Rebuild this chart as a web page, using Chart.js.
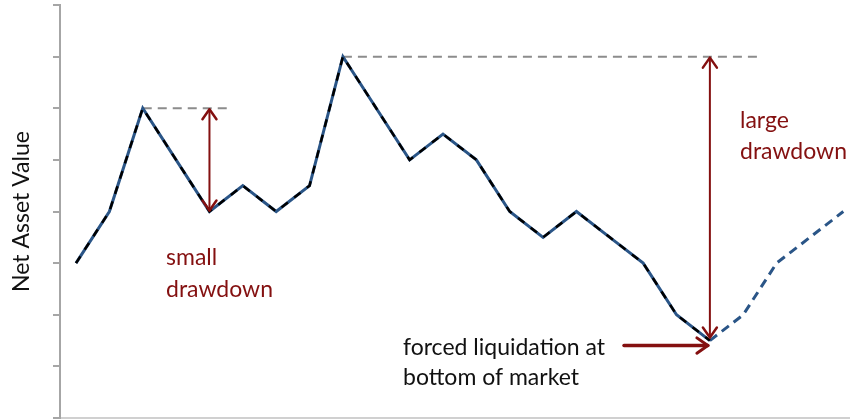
<!DOCTYPE html>
<html>
<head>
<meta charset="utf-8">
<script src="https://cdn.jsdelivr.net/npm/chart.js@4.4.0/dist/chart.umd.min.js"></script>
<style>
    html, body { margin: 0; padding: 0; background: #ffffff; }
    #wrap { width: 850px; height: 420px; }
</style>
</head>
<body>
<div id="wrap"><canvas id="navChart"></canvas></div>
<script>
// net asset value per period (index = period)
const navValues = [3, 4, 6, 5, 4, 4.5, 4, 4.5, 7, 6, 5, 5.5, 5, 4, 3.5, 4, 3.5, 3, 2, 1.5, 2, 3, 3.5, 4];
const liquidationIndex = 19;
const yTicks = [0, 1, 2, 3, 4, 5, 6, 7, 8];

// previous highs (start period, end period, level)
const smallPeak = [2, 4.65, 6];
const largePeak = [8, 20.5, 7];

const darkRed = '#841010';
const navBlue = '#2a5587';
const axisGray = '#a6a6a6';

function toPoints(from, to) {
    return navValues.slice(from, to).map((v, i) => ({ x: from + i, y: v }));
}

function peakLine(p) {
    return [{ x: p[0], y: p[2] }, { x: p[1], y: p[2] }];
}

function drawHead(ctx, x, y, dx, dy, size) {
    // open V-shaped arrow head pointing along (dx, dy)
    const len = Math.hypot(dx, dy);
    const ux = dx / len, uy = dy / len;
    ctx.beginPath();
    ctx.moveTo(x - ux * size + uy * size * 0.7, y - uy * size - ux * size * 0.7);
    ctx.lineTo(x, y);
    ctx.lineTo(x - ux * size - uy * size * 0.7, y - uy * size + ux * size * 0.7);
    ctx.stroke();
}

const annotations = {
    id: 'annotations',
    afterDatasetsDraw(chart) {
        const ctx = chart.ctx;
        const xs = chart.scales.x, ys = chart.scales.y;
        ctx.save();
        ctx.strokeStyle = darkRed;
        ctx.lineCap = 'round';
        ctx.lineJoin = 'round';

        // small drawdown: peak to trough at period 4
        let x = xs.getPixelForValue(4);
        let top = ys.getPixelForValue(smallPeak[2]);
        let bot = ys.getPixelForValue(navValues[4]);
        ctx.lineWidth = 2;
        ctx.beginPath(); ctx.moveTo(x, top + 1); ctx.lineTo(x, bot - 1); ctx.stroke();
        ctx.lineWidth = 2.5;
        drawHead(ctx, x, top + 1, 0, -1, 10);
        drawHead(ctx, x, bot - 1, 0, 1, 10);

        // large drawdown: peak to trough at liquidation
        x = xs.getPixelForValue(liquidationIndex);
        top = ys.getPixelForValue(largePeak[2]);
        bot = ys.getPixelForValue(navValues[liquidationIndex]);
        ctx.lineWidth = 2;
        ctx.beginPath(); ctx.moveTo(x, top + 1); ctx.lineTo(x, bot - 3); ctx.stroke();
        ctx.lineWidth = 2.5;
        drawHead(ctx, x, top + 1, 0, -1, 10);
        drawHead(ctx, x, bot - 3, 0, 1, 10);

        // forced liquidation pointer
        const hy = ys.getPixelForValue(navValues[liquidationIndex]) + 5;
        const hx = xs.getPixelForValue(liquidationIndex) - 2;
        ctx.lineWidth = 3.5;
        ctx.beginPath(); ctx.moveTo(624, hy); ctx.lineTo(hx, hy); ctx.stroke();
        ctx.lineWidth = 3;
        drawHead(ctx, hx, hy, 1, 0, 11);

        ctx.font = '23px Lato';
        ctx.textBaseline = 'middle';
        ctx.textAlign = 'left';
        ctx.fillStyle = darkRed;
        ctx.fillText('small', 166, 258);
        ctx.fillText('drawdown', 166, 290);
        ctx.fillText('large', 740, 121);
        ctx.fillText('drawdown', 740, 152);
        ctx.fillStyle = '#111111';
        ctx.fillText('forced liquidation at', 403, 348);
        ctx.fillText('bottom of market', 403, 378);

        // y axis title
        const area = chart.chartArea;
        ctx.translate(22, (area.top + area.bottom) / 2);
        ctx.rotate(-Math.PI / 2);
        ctx.textAlign = 'center';
        ctx.fillText('Net Asset Value', 0, 0);
        ctx.restore();
    }
};

new Chart(document.getElementById('navChart'), {
    type: 'line',
    data: {
        datasets: [
            {
                data: peakLine(smallPeak),
                borderColor: '#8c8c8c',
                borderWidth: 2,
                borderDash: [9, 6],
                pointRadius: 0,
                order: 3
            },
            {
                data: peakLine(largePeak),
                borderColor: '#8c8c8c',
                borderWidth: 2,
                borderDash: [9, 6],
                pointRadius: 0,
                order: 3
            },
            {
                data: toPoints(0, liquidationIndex + 1),
                borderColor: navBlue,
                borderWidth: 3,
                pointRadius: 0,
                tension: 0,
                order: 2
            },
            {
                data: toPoints(0, liquidationIndex + 1),
                borderColor: '#000000',
                borderWidth: 2.5,
                borderDash: [8, 8],
                pointRadius: 0,
                tension: 0,
                order: 1
            },
            {
                data: toPoints(liquidationIndex, navValues.length),
                borderColor: navBlue,
                borderWidth: 3,
                borderDash: [9, 6],
                pointRadius: 0,
                tension: 0,
                order: 1
            }
        ]
    },
    options: {
        responsive: true,
        maintainAspectRatio: false,
        animation: false,
        layout: { padding: { left: 53, top: 5, right: 0, bottom: 0 } },
        plugins: {
            legend: { display: false },
            tooltip: { enabled: false }
        },
        scales: {
            x: {
                type: 'linear',
                min: -0.48,
                max: 23.2,
                ticks: { display: false },
                grid: { display: false },
                border: { color: '#d0d0d0', width: 2 },
                afterFit(axis) { axis.height = 2; }
            },
            y: {
                min: yTicks[0],
                max: yTicks[yTicks.length - 1],
                afterBuildTicks(axis) {
                    axis.ticks = yTicks.map(v => ({ value: v }));
                },
                ticks: { display: false },
                grid: {
                    drawOnChartArea: false,
                    drawTicks: true,
                    tickLength: 7,
                    color: axisGray,
                    lineWidth: 2
                },
                border: { color: axisGray, width: 2 }
            }
        }
    },
    plugins: [annotations]
});
</script>
</body>
</html>
